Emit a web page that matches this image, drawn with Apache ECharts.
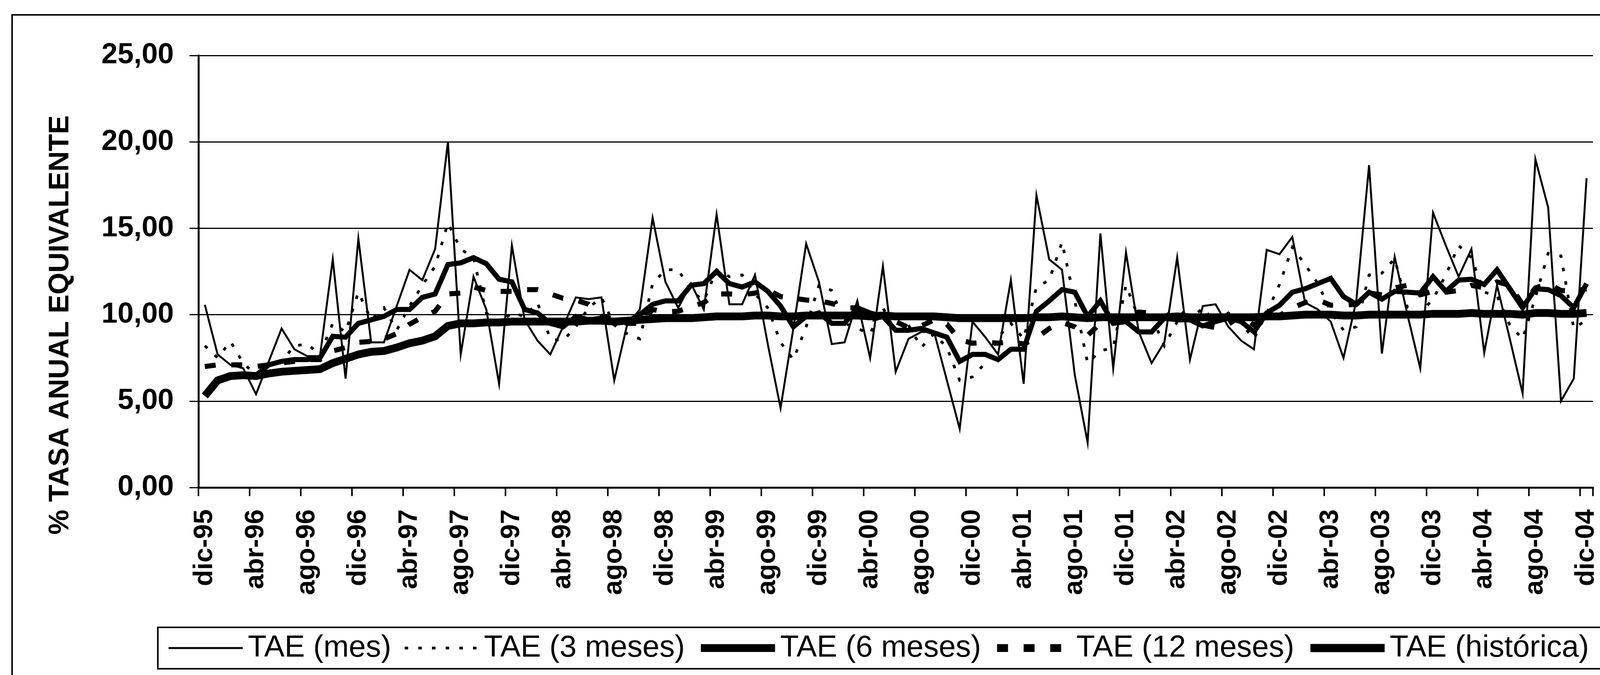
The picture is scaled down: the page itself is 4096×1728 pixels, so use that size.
<!DOCTYPE html>
<html><head><meta charset="utf-8">
<script src="https://cdn.jsdelivr.net/npm/echarts@6/dist/echarts.min.js"></script>
<style>html,body{margin:0;padding:0;background:#fff}#c{width:4096px;height:1728px}</style>
</head><body><div id="c"></div>
<script>
const categories = [
 'dic-95',
 'ene-96','feb-96','mar-96','abr-96','may-96','jun-96','jul-96','ago-96','sep-96','oct-96','nov-96','dic-96',
 'ene-97','feb-97','mar-97','abr-97','may-97','jun-97','jul-97','ago-97','sep-97','oct-97','nov-97','dic-97',
 'ene-98','feb-98','mar-98','abr-98','may-98','jun-98','jul-98','ago-98','sep-98','oct-98','nov-98','dic-98',
 'ene-99','feb-99','mar-99','abr-99','may-99','jun-99','jul-99','ago-99','sep-99','oct-99','nov-99','dic-99',
 'ene-00','feb-00','mar-00','abr-00','may-00','jun-00','jul-00','ago-00','sep-00','oct-00','nov-00','dic-00',
 'ene-01','feb-01','mar-01','abr-01','may-01','jun-01','jul-01','ago-01','sep-01','oct-01','nov-01','dic-01',
 'ene-02','feb-02','mar-02','abr-02','may-02','jun-02','jul-02','ago-02','sep-02','oct-02','nov-02','dic-02',
 'ene-03','feb-03','mar-03','abr-03','may-03','jun-03','jul-03','ago-03','sep-03','oct-03','nov-03','dic-03',
 'ene-04','feb-04','mar-04','abr-04','may-04','jun-04','jul-04','ago-04','sep-04','oct-04','nov-04','dic-04'
];
const yTicks = [0, 5, 10, 15, 20, 25];

const taeMes = [10.57,7.7,7.1,6.9,5.4,7.3,9.2,8.0,7.6,7.6,
 13.2,6.3,14.4,8.4,8.4,10.5,12.6,12.0,13.8,20.0,
 7.7,12.2,10.3,6.0,14.0,9.7,8.5,7.7,9.3,11.0,
 10.9,11.0,6.2,9.4,10.3,15.6,11.9,10.4,11.8,10.3,
 15.8,10.6,10.6,12.3,8.3,4.6,9.2,14.1,11.9,8.3,
 8.4,10.8,7.5,12.8,6.7,8.6,9.0,9.0,6.2,3.4,
 9.6,8.7,7.7,12.0,6.0,16.9,13.2,12.6,6.5,2.6,
 14.7,6.9,13.6,9.0,7.2,8.4,13.3,7.4,10.5,10.6,
 9.3,8.5,8.0,13.75,13.5,14.5,10.7,10.3,9.6,7.5,
 10.8,18.65,7.75,13.35,10.0,6.9,15.9,14.0,12.2,13.8,
 7.8,11.7,8.6,5.45,19.0,16.2,5.0,6.3,17.9];

const tae3m = [8.2,7.5,8.45,7.2,6.5,6.5,7.3,8.2,8.3,7.7,
 9.5,9.0,11.3,9.7,10.4,9.1,10.5,11.7,12.8,15.3,
 13.8,13.3,10.1,9.5,10.1,9.9,10.7,8.6,8.5,9.3,
 10.4,11.0,9.4,8.9,8.6,11.8,12.6,12.6,11.4,10.8,
 12.6,12.2,12.3,11.2,10.4,8.4,7.4,9.3,11.7,11.4,
 9.5,9.2,8.9,10.4,9.0,9.4,8.1,8.9,8.1,6.2,
 6.4,7.2,8.7,9.5,8.6,11.6,12.0,14.2,10.8,7.2,
 7.9,8.1,11.7,9.8,9.9,8.2,9.6,9.7,10.4,9.5,
 10.1,9.5,8.6,10.1,11.75,13.9,12.9,11.8,10.2,9.1,
 9.3,12.3,12.4,13.25,10.4,10.1,10.9,12.3,14.0,13.3,
 11.3,11.1,9.4,8.6,11.0,13.55,13.4,9.2,9.7];

const tae6m = [5.4,6.2,6.4,6.5,6.5,7.1,7.3,7.4,7.4,7.5,
 8.75,8.7,9.5,9.7,9.9,10.3,10.3,11.0,11.2,12.9,
 13.0,13.3,12.95,12.05,11.9,10.3,10.1,9.5,9.3,9.9,
 9.7,9.8,9.5,9.6,10.0,10.6,10.8,10.8,11.7,11.8,
 12.5,11.8,11.6,11.9,11.35,10.5,9.3,9.9,10.1,9.5,
 9.5,10.4,10.1,9.9,9.1,9.1,9.2,8.95,8.7,7.3,
 7.7,7.7,7.4,8.0,8.0,10.2,10.8,11.45,11.3,9.9,
 10.8,9.5,9.6,9.0,9.0,9.8,9.7,9.7,9.35,9.6,
 9.8,9.6,9.0,10.1,10.55,11.3,11.5,11.8,12.1,11.05,
 10.6,11.3,10.9,11.35,11.3,11.25,12.2,11.35,12.0,12.05,
 11.75,12.6,11.5,10.4,11.5,11.45,11.1,10.4,11.8];

const tae12m = [7.0,7.1,7.1,7.1,7.0,7.1,7.2,7.3,7.4,7.4,
 7.9,8.1,8.4,8.45,8.6,8.9,9.45,9.85,10.2,11.2,
 11.25,11.6,11.4,11.35,11.35,11.45,11.45,11.2,10.95,10.85,
 10.6,9.9,9.75,9.5,9.5,10.3,10.15,10.2,10.45,10.7,
 11.2,11.2,11.15,11.25,11.45,11.05,10.95,10.85,10.8,10.65,
 10.4,10.4,9.7,9.9,9.6,9.25,9.35,9.7,9.45,8.55,
 8.35,8.4,8.35,8.45,8.3,8.65,9.2,9.55,9.3,8.8,
 9.5,9.8,10.1,10.15,10.1,9.8,10.4,9.6,9.4,9.25,
 9.45,9.95,9.4,9.95,9.95,10.4,10.7,10.85,10.55,10.55,
 10.6,11.25,11.15,11.55,11.7,11.15,11.35,11.3,11.4,11.7,
 11.55,11.9,11.7,10.6,11.55,11.8,11.4,11.35,11.5];

const taeHist = [5.3,6.2,6.45,6.5,6.45,6.6,6.7,6.75,6.8,6.85,
 7.2,7.45,7.7,7.85,7.9,8.1,8.35,8.5,8.75,9.35,
 9.5,9.5,9.55,9.55,9.6,9.6,9.6,9.6,9.6,9.6,
 9.65,9.65,9.6,9.65,9.7,9.75,9.8,9.8,9.8,9.85,
 9.9,9.9,9.9,9.95,9.95,9.9,9.9,9.95,9.95,9.95,
 9.95,9.95,9.9,9.95,9.9,9.9,9.9,9.9,9.85,9.8,
 9.8,9.8,9.8,9.8,9.8,9.85,9.85,9.9,9.85,9.8,
 9.85,9.85,9.85,9.85,9.85,9.85,9.9,9.85,9.85,9.85,
 9.85,9.85,9.85,9.9,9.9,9.95,10.0,10.0,10.0,9.95,
 9.95,10.0,10.0,10.0,10.0,10.0,10.05,10.05,10.05,10.1,
 10.05,10.05,10.05,10.0,10.1,10.1,10.05,10.05,10.1];

const seriesNames = ['TAE (mes)', 'TAE (3 meses)', 'TAE (6 meses)', 'TAE (12 meses)', 'TAE (histórica)'];
const yTitle = '% TASA ANUAL EQUIVALENTE';

const FONT = '"Liberation Sans", Arial, Helvetica, sans-serif';
const chart = echarts.init(document.getElementById('c'), null, {renderer: 'canvas'});

const styles = [
  {width: 5, type: 'solid'},
  {width: 7, type: [9, 26]},
  {width: 13, type: 'solid'},
  {width: 13, type: [28, 40]},
  {width: 20, type: 'solid'}
];
const legendWidths = [5, 7, 20, 20, 21];
const dataSets = [taeMes, tae3m, tae6m, tae12m, taeHist];

const option = {
  animation: false,
  backgroundColor: '#fff',
  grid: {left: 508, top: 142, width: 3570, height: 1106, containLabel: false},
  xAxis: {
    type: 'category', data: categories, boundaryGap: true,
    axisLine: {show: true, onZero: false, lineStyle: {color: '#000', width: 5}},
    axisTick: {show: true, interval: 3, length: 22, inside: false, lineStyle: {color: '#000', width: 4}},
    axisLabel: {interval: 3, rotate: 90, margin: 56, color: '#000', fontFamily: FONT, fontWeight: 'bold', fontSize: 68, hideOverlap: false},
    splitLine: {show: false}
  },
  yAxis: {
    type: 'value', min: yTicks[0], max: yTicks[yTicks.length - 1], interval: 5,
    axisLine: {show: true, lineStyle: {color: '#000', width: 5}},
    axisTick: {show: true, length: 23, lineStyle: {color: '#000', width: 3}},
    axisLabel: {margin: 63, color: '#000', fontFamily: FONT, fontWeight: 'bold', fontSize: 74,
      formatter: v => v.toFixed(2).replace('.', ',')},
    splitLine: {show: true, lineStyle: {color: '#000', width: 3}}
  },
  legend: {
    left: 404, top: 1606, width: 3900, orient: 'horizontal',
    padding: [13, 60, 13, 25],
    borderColor: '#000', borderWidth: 4, backgroundColor: '#fff',
    itemWidth: 190, itemHeight: 24, itemGap: 31,
    selectedMode: false,
    textStyle: {fontFamily: FONT, fontSize: 78, color: '#000', lineHeight: 80, padding: [0, 0, 0, 8]},
    itemStyle: {opacity: 0},
    data: seriesNames.map((n, i) => ({name: n, lineStyle: {width: legendWidths[i]}, itemStyle: {opacity: 0}}))
  },
  graphic: [
    {type: 'rect', shape: {x: 31, y: 38, width: 4300, height: 1800}, style: {fill: 'none', stroke: '#000', lineWidth: 4}, silent: true, z: -1},
    {type: 'text', x: 155, y: 832, rotation: Math.PI / 2, silent: true,
      style: {text: yTitle, fontSize: 72, fontWeight: 'bold', fontFamily: FONT, fill: '#000', align: 'center', verticalAlign: 'middle'}}
  ],
  series: seriesNames.map((n, i) => ({
    name: n, type: 'line', data: dataSets[i],
    symbol: 'none', showSymbol: false, silent: true,
    itemStyle: {color: '#000'},
    lineStyle: {color: '#000', width: styles[i].width, type: styles[i].type, cap: 'butt', join: 'miter'},
    emphasis: {disabled: true},
    z: 2 + i
  }))
};
chart.setOption(option);
</script>
</body></html>
